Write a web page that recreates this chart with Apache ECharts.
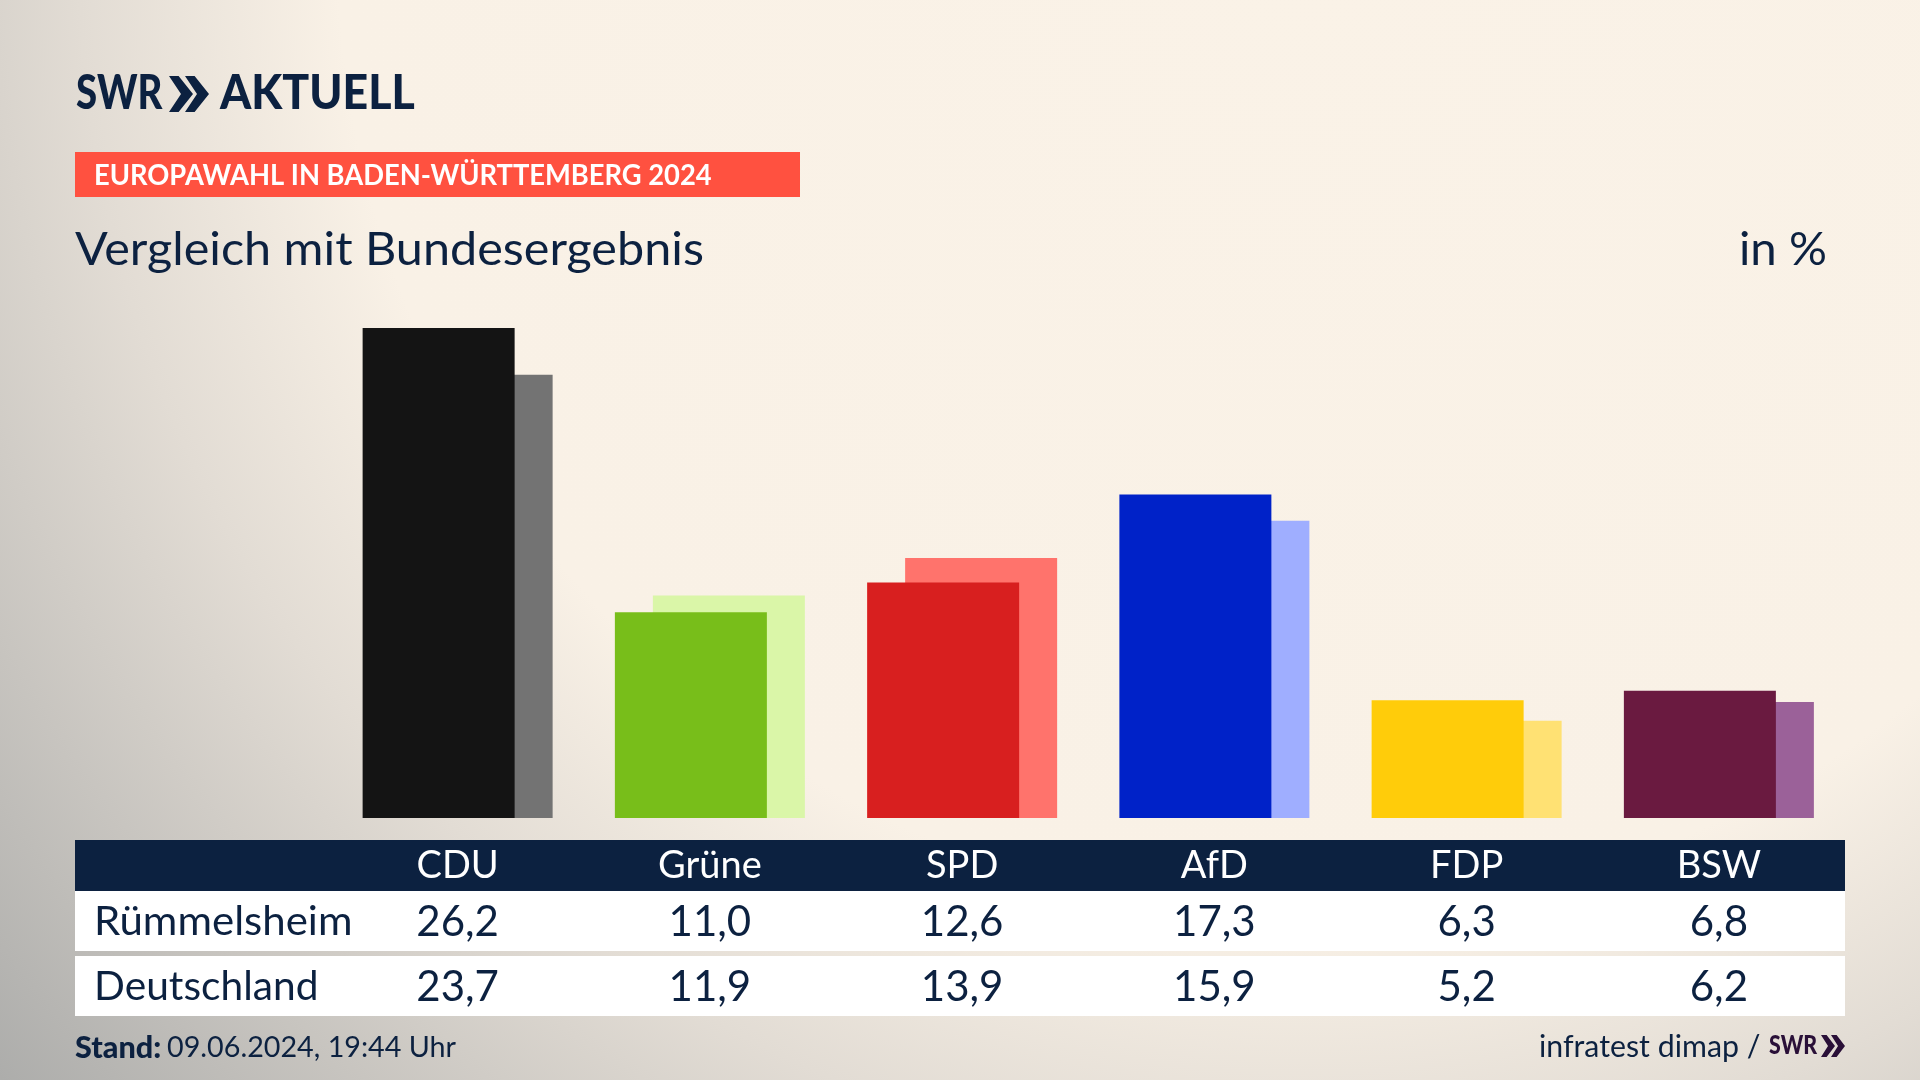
<!DOCTYPE html>
<html>
<head>
<meta charset="utf-8">
<title>Vergleich mit Bundesergebnis</title>
<style>
  html, body { margin: 0; padding: 0; width: 100%; height: 100%; overflow: hidden; }
  #chart { width: 1920px; height: 1080px; }
</style>
<script src="https://cdn.jsdelivr.net/npm/echarts@6/dist/echarts.min.js"></script>
</head>
<body>
<div id="chart"></div>
<script>
const parties = ['CDU', 'Grüne', 'SPD', 'AfD', 'FDP', 'BSW']
const ruemmelsheim = [26.2, 11.0, 12.6, 17.3, 6.3, 6.8]
const deutschland = [23.7, 11.9, 13.9, 15.9, 5.2, 6.2]
const frontColors = ['#141414', '#78BE1A', '#D81F1F', '#0022C8', '#FFCC0A', '#6A1A40']
const backColors = ['#737373', '#DAF6A8', '#FF736C', '#9FAEFF', '#FFE173', '#9B6199']

const navy = '#0C2140'
const font = 'Lato'
const fmt = (v) => v.toFixed(1).replace('.', ',')

const chart = echarts.init(document.getElementById('chart'))

// Zeile der Tabelle als eigene Kategorieachse
const rowAxis = (data, offset, color, size) => ({
  type: 'category',
  data: data,
  position: 'bottom',
  offset: offset,
  z: 5,
  axisLine: { show: false },
  axisTick: { show: false },
  axisLabel: {
    interval: 0,
    margin: 0,
    color: color,
    fontFamily: font,
    fontSize: size,
    verticalAlign: 'middle',
  },
})

// scale: Lato horizontal an die Laufweite der Vorlage anpassen
const leftText = (x, y, text, size, weight, color, scale) => ({
  type: 'text',
  x: x,
  y: y,
  scaleX: scale || 1,
  z: 4,
  style: {
    text: text,
    fontFamily: font,
    fontSize: size,
    fontWeight: weight,
    fill: color,
    verticalAlign: 'middle',
  },
})

const box = (x, y, w, h, fill) => ({
  type: 'rect',
  z: 1,
  shape: { x: x, y: y, width: w, height: h },
  style: { fill: fill },
})

const chevrons = (x, y, w, h, gap, fill) => [0, 1].map((i) => ({
  type: 'polygon',
  z: 4,
  shape: {
    points: [
      [x + i * gap, y],
      [x + i * gap + w * 0.4, y],
      [x + i * gap + w, y + h / 2],
      [x + i * gap + w * 0.4, y + h],
      [x + i * gap, y + h],
      [x + i * gap + w * 0.5, y + h / 2],
    ],
  },
  style: { fill: fill },
}))

const option = {
  animation: false,
  backgroundColor: {
    type: 'radial',
    x: 0.68,
    y: -0.05,
    r: 1.6,
    colorStops: [
      { offset: 0, color: '#FAF2E7' },
      { offset: 0.56, color: '#F9F1E6' },
      { offset: 0.71, color: '#E2DCD4' },
      { offset: 1, color: '#ADADAB' },
    ],
  },
  grid: { left: 331.5, right: 75, top: 257, bottom: 262 },
  xAxis: [
    {
      type: 'category',
      data: parties,
      position: 'bottom',
      offset: 48,
      z: 5,
      axisLine: { show: false },
      axisTick: { show: false },
      axisLabel: {
        interval: 0,
        margin: 0,
        color: '#FFFFFF',
        fontFamily: font,
        fontSize: 38,
        verticalAlign: 'middle',
      },
    },
    rowAxis(ruemmelsheim.map(fmt), 104, navy, 42),
    rowAxis(deutschland.map(fmt), 169, navy, 42),
  ],
  yAxis: {
    type: 'value',
    min: 0,
    max: 30,
    show: false,
  },
  series: [
    {
      name: 'Rümmelsheim',
      type: 'bar',
      z: 3,
      barWidth: 152,
      barGap: '-75%',
      data: ruemmelsheim.map((v, i) => ({ value: v, itemStyle: { color: frontColors[i] } })),
    },
    {
      name: 'Deutschland',
      type: 'bar',
      z: 2,
      barWidth: 152,
      barGap: '-75%',
      data: deutschland.map((v, i) => ({ value: v, itemStyle: { color: backColors[i] } })),
    },
  ],
  graphic: {
    elements: [
      leftText(76, 94, 'SWR', 48, 900, navy, 0.8),
      ...chevrons(169, 76, 24, 36, 16, navy),
      leftText(220, 94, 'AKTUELL', 48, 900, navy, 0.93),
      box(75, 152, 725, 45, '#FF5140'),
      leftText(94, 176, 'EUROPAWAHL IN BADEN-WÜRTTEMBERG 2024', 29, 'bold', '#FFFFFF', 0.942),
      leftText(75, 250, 'Vergleich mit Bundesergebnis', 46, 'normal', navy, 1.055),
      leftText(1739, 250, 'in %', 46, 'normal', navy, 1.03),
      box(75, 840, 1770, 51, navy),
      box(75, 891, 1770, 60, '#FFFFFF'),
      box(75, 956, 1770, 60, '#FFFFFF'),
      leftText(94, 922, 'Rümmelsheim', 40, 'normal', navy, 1.05),
      leftText(94, 987, 'Deutschland', 40, 'normal', navy, 1.017),
      leftText(75, 1048, 'Stand:', 30, 900, navy, 1.02),
      leftText(167, 1048, '09.06.2024, 19:44 Uhr', 29, 'normal', navy, 0.99),
      leftText(1539, 1047, 'infratest dimap /', 30, 'normal', navy, 1.01),
      leftText(1769, 1046, 'SWR', 26, 900, '#2A1038', 0.82),
      ...chevrons(1821, 1035, 14, 22, 10, '#2A1038'),
    ],
  },
}

chart.setOption(option)
window.addEventListener('resize', () => chart.resize())
</script>
</body>
</html>
